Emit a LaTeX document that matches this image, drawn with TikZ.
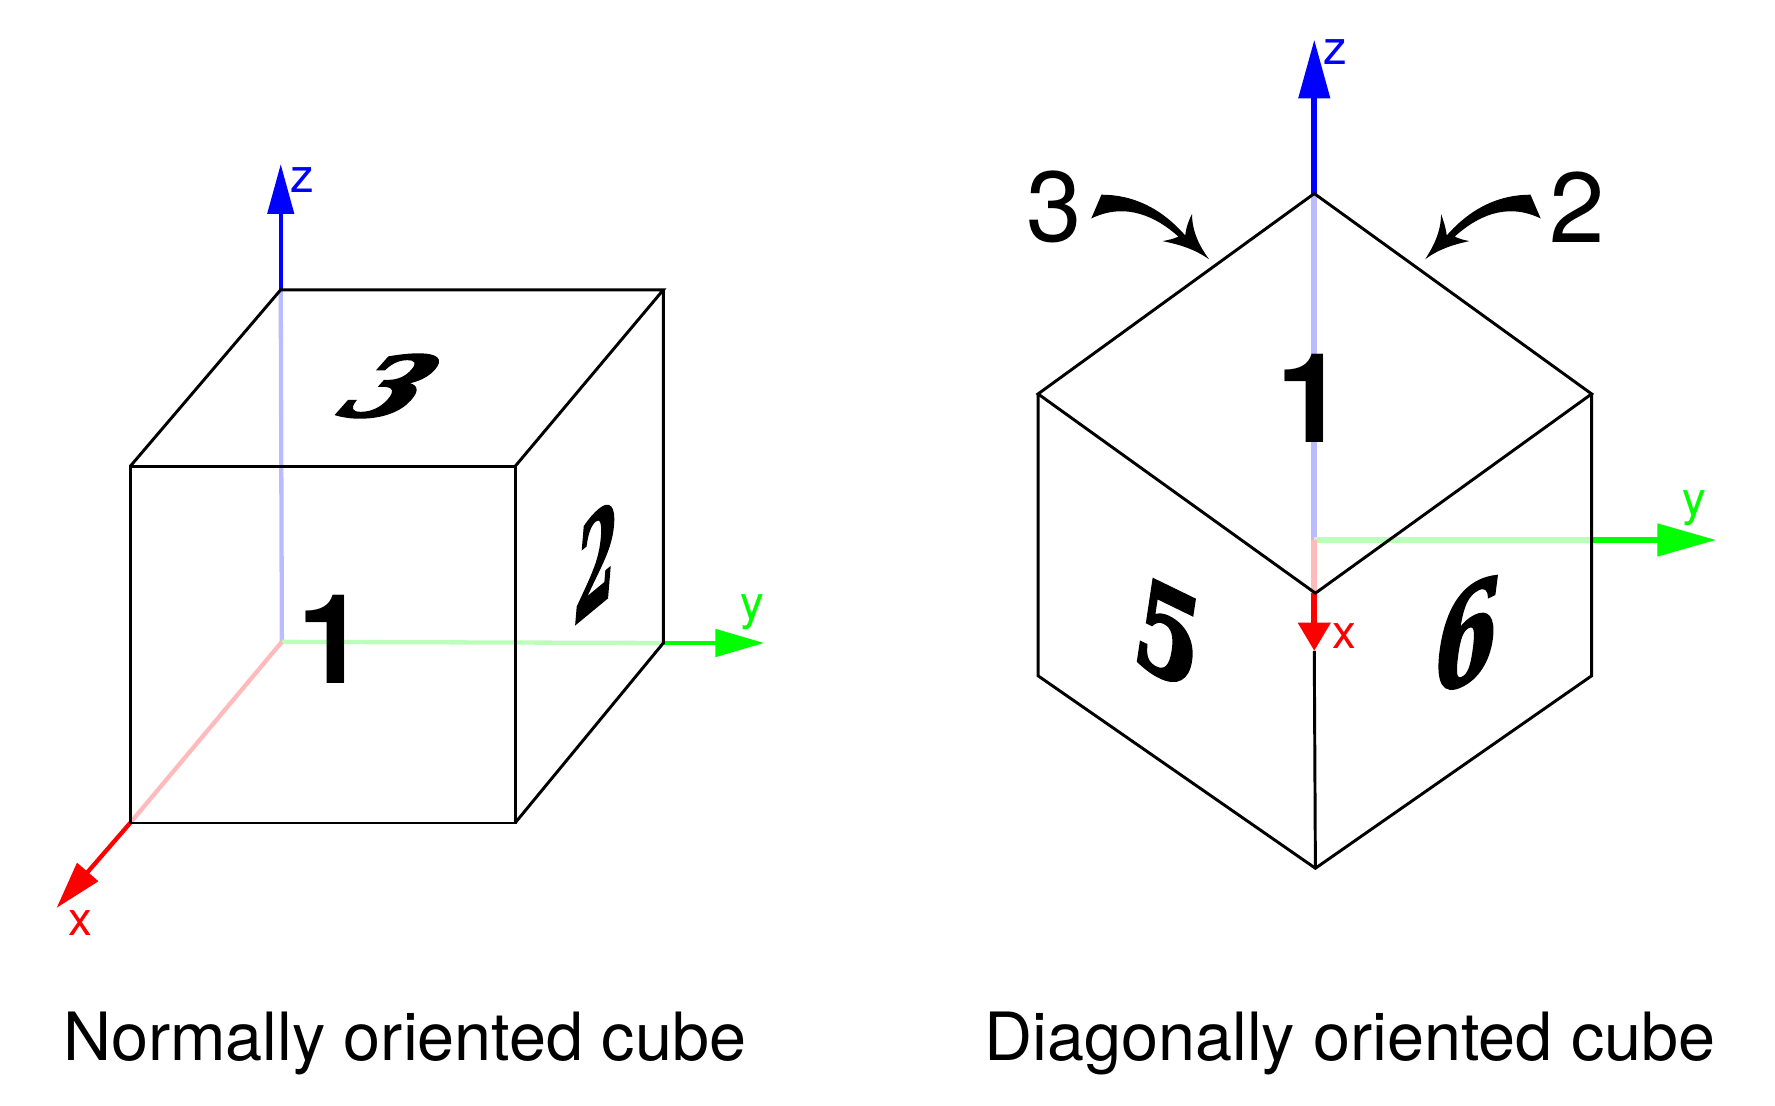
\documentclass[tikz,border=0pt]{standalone}
\usepackage{fontspec}
\setmainfont{TeX Gyre Heros}
\newfontfamily\digitfont[BoldItalicFeatures={FakeBold=2.5}]{DejaVu Serif}
\usetikzlibrary{arrows.meta}
\definecolor{paleb}{RGB}{187,187,255}
\definecolor{paleg}{RGB}{187,255,187}
\definecolor{paler}{RGB}{255,187,187}
\tikzset{
  x=0.5pt,y=-0.5pt,
  edge/.style={black,line width=1.3pt,line join=miter},
  thinaxis/.style={line width=1.9pt},
  thickaxis/.style={line width=2.6pt},
  head/.style 2 args={-{Triangle[length=#1,width=#2]}},
  axlabel/.style={inner sep=0pt,font=\fontsize{21}{21}\selectfont},
  caption/.style={inner sep=0pt,font=\fontsize{29.4}{30}\selectfont},
  bignum/.style={inner sep=0pt,font=\fontsize{44}{44}\selectfont},
  plainone/.style={inner sep=0pt,font=\fontsize{55}{55}\selectfont\bfseries},
  fancy/.style={inner sep=0pt,transform shape,font=\fontsize{56}{56}\selectfont\digitfont\bfseries\itshape},
  curlyarrow/.style={fill=black,draw=none}
}
\begin{document}
\begin{tikzpicture}
\useasboundingbox (0,0) rectangle (1568,977);
% left cube points
\coordinate (lo) at (249,567);
\coordinate (la) at (115,412); \coordinate (lb) at (455,412);
\coordinate (lc) at (455,727); \coordinate (ld) at (115,727);
\coordinate (le) at (248,256); \coordinate (lf) at (586,256);
\coordinate (lg) at (586,568);
\coordinate (lzt) at (248,145); \coordinate (lyt) at (675,568); \coordinate (lxt) at (50,802);
\draw[thinaxis,paleb] (lo) -- (le);
\draw[thinaxis,paleg] (lo) -- (lg);
\draw[thinaxis,paler] (lo) -- (ld);
\draw[thinaxis,blue,head={22pt}{11.5pt}] (le) -- (lzt);
\draw[thinaxis,green,head={21.5pt}{12pt}] (lg) -- (lyt);
\draw[thinaxis,red,head={21pt}{12pt}] (ld) -- (lxt);
\draw[edge] (la) -- (lb) -- (lc) -- (ld) -- cycle;
\draw[edge] (la) -- (le) -- (lf) -- (lb);
\draw[edge] (lf) -- (lg) -- (lc);
\node[axlabel,text=blue] (lzl) at (267,159) {z};
\node[axlabel,text=green] (lyl) at (665,541) {y};
\node[axlabel,text=red] (lxl) at (71,815) {x};
\node[plainone] (lone) at (293,565) {1};
\begin{scope}[shift={(346,341)},cm={0.85,0,0.42,0.66,(0,0)}]
\node[fancy] (lthree) at (0,0) {3};
\end{scope}
\begin{scope}[shift={(527,494)},cm={0.46,0.38,0,1.0,(0,0)}]
\node[fancy] (ltwo) at (0,0) {2};
\end{scope}
% right cube points
\coordinate (ro) at (1161,477);
\coordinate (rt) at (1161,171); \coordinate (rl) at (917,348);
\coordinate (rr) at (1406,348); \coordinate (rc) at (1162,524);
\coordinate (rb) at (1162,767); \coordinate (rlb) at (917,597);
\coordinate (rrb) at (1406,597);
\coordinate (rxb) at (1161,524);
\coordinate (ryb) at (1406,477);
\coordinate (rzt) at (1161,35); \coordinate (ryt) at (1516,477); \coordinate (rxt) at (1161,575);
\draw[thickaxis,paleb] (ro) -- (rt);
\draw[thickaxis,paleg] (ro) -- (ryb);
\draw[thickaxis,paler] (ro) -- (rxb);
\draw[thickaxis,blue,head={26pt}{13.5pt}] (rt) -- (rzt);
\draw[thickaxis,green,head={26pt}{14pt}] (ryb) -- (ryt);
\draw[thickaxis,red,head={12.5pt}{14pt}] (rxb) -- (rxt);
\draw[edge] (rl) -- (rt) -- (rr) -- (rc) -- cycle;
\draw[edge] (rl) -- (rlb) -- (rb) -- (rrb) -- (rr);
\draw[edge] (rxt) -- (rb);
\node[axlabel,text=blue] (rzl) at (1180,46) {z};
\node[axlabel,text=green] (ryl) at (1497,449) {y};
\node[axlabel,text=red] (rxl) at (1188,562) {x};
\node[plainone] (rone) at (1158,352) {1};
\begin{scope}[shift={(1032,560)},cm={0.72,-0.35,0,1,(0,0)}]
\node[fancy] (rfive) at (0,0) {5};
\end{scope}
\begin{scope}[shift={(1296,561)},cm={0.72,0.35,0,1,(0,0)}]
\node[fancy] (rsix) at (0,0) {6};
\end{scope}
\node[bignum] (rthree) at (931,183) {3};
\node[bignum] (rtwo) at (1393,183) {2};
% curved arrows
\fill[curlyarrow] (973,172) .. controls (1000,172) and (1025,183) .. (1047,208)
  .. controls (1048,200) and (1050,195) .. (1053,189)
  .. controls (1053,205) and (1060,218) .. (1068,229)
  .. controls (1055,220) and (1042,216) .. (1027,213)
  .. controls (1032,212) and (1037,211) .. (1041,209)
  .. controls (1022,192) and (995,178) .. (964,193) -- cycle;
\fill[curlyarrow] (1352,172) .. controls (1325,172) and (1300,183) .. (1278,208)
  .. controls (1277,200) and (1275,195) .. (1273,189)
  .. controls (1273,205) and (1266,218) .. (1259,229)
  .. controls (1271,220) and (1284,216) .. (1298,213)
  .. controls (1293,212) and (1289,211) .. (1285,209)
  .. controls (1304,192) and (1330,178) .. (1361,193) -- cycle;
\node[caption] (capl) at (357.5,922) {Normally oriented cube};
\node[caption] (capr) at (1192.5,922) {Diagonally oriented cube};
\end{tikzpicture}
\end{document}
